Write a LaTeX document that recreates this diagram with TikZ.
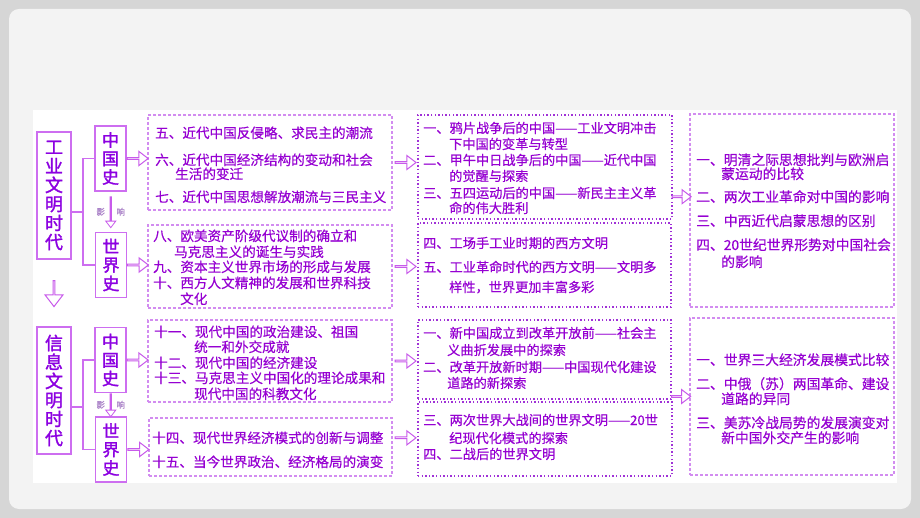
\documentclass[tikz,border=0pt]{standalone}
\usepackage{fontspec}
\usepackage{tikz}
\usetikzlibrary{shapes.arrows,positioning,calc}
\newfontfamily\cjk[FakeBold=0.5]{Noto Sans CJK SC}
\newfontfamily\cjkbf[FakeBold=1.6]{Noto Sans CJK SC}
\definecolor{violettext}{RGB}{150,0,210}
\definecolor{titleviolet}{RGB}{140,0,225}
\definecolor{framelilac}{RGB}{205,110,240}
\definecolor{dashlilac}{RGB}{210,140,240}
\definecolor{dotviolet}{RGB}{160,50,215}
\definecolor{arrowlilac}{RGB}{200,90,235}
\definecolor{effectgray}{RGB}{170,130,200}
\definecolor{slidegray}{RGB}{214,214,214}
\definecolor{panelgray}{RGB}{243,243,243}

\begin{document}
\begin{tikzpicture}[x=1pt,y=-1pt,
    every node/.style={text=violettext},
    era/.style={draw=framelilac, line width=1.3pt, inner sep=0pt, align=center,
        minimum width=34pt, minimum height=127pt, text=titleviolet,
        font=\cjkbf\fontsize{18}{19}\selectfont},
    hist/.style={draw=framelilac, line width=1.3pt, inner sep=0pt, align=center,
        minimum width=31pt, minimum height=65pt, text=titleviolet,
        font=\cjkbf\fontsize{17}{18.5}\selectfont},
    dashbox/.style={draw=dashlilac, line width=1.1pt, dash pattern=on 3pt off 2pt},
    dotbox/.style={draw=dotviolet, line width=1.4pt, dash pattern=on 1.4pt off 2.2pt},
    item/.style={anchor=base west, yshift=-5pt, inner sep=0pt},
    colB/.style={item, font=\cjk\fontsize{13.6}{16}\selectfont},
    colC/.style={item, font=\cjk\fontsize{13.2}{16}\selectfont},
    colD/.style={item, font=\cjk\fontsize{13.8}{16}\selectfont},
    hollow/.style={single arrow, draw=arrowlilac, fill=white, line width=1pt,
        inner sep=0pt, minimum height=21pt, minimum width=14pt,
        single arrow head extend=3.5pt, single arrow tip angle=75},
    link/.style={draw=framelilac, line width=1.2pt},
    effect/.style={text=effectgray, font=\cjk\fontsize{8.5}{8.5}\selectfont, inner sep=0pt}
]
% slide background
\useasboundingbox (0,0) rectangle (920,518);
\fill[slidegray] (0,0) rectangle (920,518);
\fill[panelgray, rounded corners=10pt] (9,9) rectangle (911,509);
\fill[white] (33,110) rectangle (897,483);

% eras and the two histories
\node[era] (gy) at (54,195.5) {工\\业\\文\\明\\时\\代};
\node[era] (xx) at (54,390.5) {信\\息\\文\\明\\时\\代};
\node[hist] (zg1) at (110.5,158.5) {中\\国\\史};
\node[hist] (sj1) at (111,265) {世\\界\\史};
\node[hist] (zg2) at (110.5,360) {中\\国\\史};
\node[hist] (sj2) at (111,449.5) {世\\界\\史};

% forks
\coordinate (f1) at (83,212);
\coordinate (f2) at (83,407);
\draw[link] (gy.east |- f1) -- (f1);
\draw[link] (zg1.west) -| (f1) |- (sj1.west);
\draw[link] (xx.east |- f2) -- (f2);
\draw[link] (zg2.west) -| (f2) |- (sj2.west);

% era arrow and "influence" arrows
\path (gy.south) -- (xx.north) node[midway, hollow, rotate=-90, minimum height=26pt,
    minimum width=18pt, single arrow head extend=4.5pt] (t1) {};
\path (zg1.south) -- (sj1.north) node[midway, hollow, rotate=-90, minimum height=31pt,
    minimum width=10pt, single arrow head extend=2.8pt, line width=0.8pt] (yx1) {};
\path (zg2.south) -- (sj2.north) node[midway, hollow, rotate=-90, minimum height=23pt,
    minimum width=10pt, single arrow head extend=2.8pt, line width=0.8pt] (yx2) {};
\node[effect] (yx1a) at ([xshift=-10pt]yx1.center) {影};
\node[effect] (yx1b) at ([xshift=10pt]yx1.center) {响};
\node[effect] (yx2a) at ([xshift=-10pt]yx2.center) {影};
\node[effect] (yx2b) at ([xshift=10pt]yx2.center) {响};

% column boxes
\node[dashbox, minimum width=244pt, minimum height=95pt] (bA) at (270,162.5) {};
\node[dashbox, minimum width=244pt, minimum height=83pt] (bB) at (270,266.5) {};
\node[dashbox, minimum width=244pt, minimum height=82pt] (bC) at (270,361) {};
\node[dashbox, minimum width=243pt, minimum height=58pt] (bD) at (270.5,447) {};
\node[dotbox, minimum width=254pt, minimum height=104pt] (bE) at (545,167) {};
\node[dotbox, minimum width=253pt, minimum height=84pt] (bF) at (544.5,265) {};
\node[dotbox, minimum width=253pt, minimum height=79pt] (bG) at (544.5,359.5) {};
\node[dotbox, minimum width=254pt, minimum height=74pt] (bH) at (545,439) {};
\node[dashbox, minimum width=204pt, minimum height=193pt] (bI) at (792,210.5) {};
\node[dashbox, minimum width=204pt, minimum height=157pt] (bJ) at (792,396.5) {};

% chapters, modern times
\foreach \n/\x/\y/\t in {
    a1/155/133/{五、近代中国反侵略、求民主的潮流},
    a2/155/160/{六、近代中国经济结构的变动和社会},
    a3/175/174/{生活的变迁},
    a4/155/197/{七、近代中国思想解放潮流与三民主义},
    b1/153/236/{八、欧美资产阶级代议制的确立和},
    b2/174/252/{马克思主义的诞生与实践},
    b3/153/267/{九、资本主义世界市场的形成与发展},
    b4/153/283/{十、西方人文精神的发展和世界科技},
    b5/180/299/{文化},
    c1/154/332/{十一、现代中国的政治建设、祖国},
    c2/194/347/{统一和外交成就},
    c3/154/363/{十二、现代中国的经济建设},
    c4/154/378/{十三、马克思主义中国化的理论成果和},
    c5/194/394/{现代中国的科教文化},
    d1/152/438/{十四、现代世界经济模式的创新与调整},
    d2/152/462/{十五、当今世界政治、经济格局的演变}}
    \node[colB] (\n) at (\x,\y) {\t};

% themes
\foreach \n/\x/\y/\t in {
    e1/423/128/{一、鸦片战争后的中国——工业文明冲击},
    e2/449/144/{下中国的变革与转型},
    e3/423/160/{二、甲午中日战争后的中国——近代中国},
    e4/449/176/{的觉醒与探索},
    e5/423/193/{三、五四运动后的中国——新民主主义革},
    e6/449/208/{命的伟大胜利},
    g1/423/243/{四、工场手工业时期的西方文明},
    g2/423/267/{五、工业革命时代的西方文明——文明多},
    g3/449/287/{样性，世界更加丰富多彩},
    h1/423/333/{一、新中国成立到改革开放前——社会主},
    h2/447/350/{义曲折发展中的探索},
    h3/423/367/{二、改革开放新时期——中国现代化建设},
    h4/447/383/{道路的新探索},
    k1/423/420/{三、两次世界大战间的世界文明——20世},
    k2/449/438/{纪现代化模式的探索},
    k3/423/454/{四、二战后的世界文明}}
    \node[colC] (\n) at (\x,\y) {\t};

% comparisons
\foreach \n/\x/\y/\t in {
    i1/696/160/{一、明清之际思想批判与欧洲启},
    i2/721/174/{蒙运动的比较},
    i3/696/197/{二、两次工业革命对中国的影响},
    i4/696/221/{三、中西近代启蒙思想的区别},
    i5/696/245/{四、20世纪世界形势对中国社会},
    i6/721/262/{的影响},
    j1/696/360/{一、世界三大经济发展模式比较},
    j2/696/384/{二、中俄（苏）两国革命、建设},
    j3/721/399/{道路的异同},
    j4/696/423/{三、美苏冷战局势的发展演变对},
    j5/721/438/{新中国外交产生的影响}}
    \node[colD] (\n) at (\x,\y) {\t};

% hollow arrows between columns
\path (zg1.east) -- (zg1.east -| bA.west) node[midway, hollow] (p1) {};
\path (sj1.east) -- (sj1.east -| bB.west) node[midway, hollow] (p2) {};
\path (zg2.east) -- (zg2.east -| bC.west) node[midway, hollow] (p3) {};
\path (sj2.east) -- (sj2.east -| bD.west) node[midway, hollow] (p4) {};
\path (bA.east) -- (bA.east -| bE.west) node[midway, hollow] (q1) {};
\path (bB.east) -- (bB.east -| bF.west) node[midway, hollow] (q2) {};
\path (bC.east) -- (bC.east -| bG.west) node[midway, hollow] (q3) {};
\path (d1 -| bD.east) -- (d1 -| bH.west) node[midway, hollow] (q4) {};
\path (i3 -| bE.east) -- (i3 -| bI.west) node[midway, hollow, minimum height=19pt] (r1) {};
\path (bJ.west -| bG.east) -- (bJ.west) node[midway, hollow, minimum height=19pt] (r2) {};
\end{tikzpicture}
\end{document}
